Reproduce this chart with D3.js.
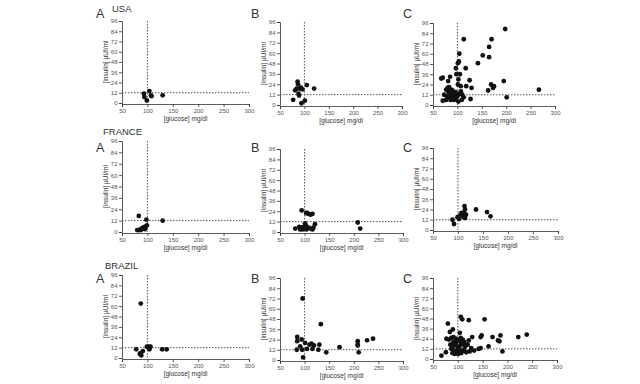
<!DOCTYPE html>
<html><head><meta charset="utf-8">
<script src="https://cdn.jsdelivr.net/npm/d3@7"></script>
<style>body{margin:0;background:#fff}svg{display:block}</style>
</head><body>
<svg id="c" width="640" height="384"></svg>
<script>
// ---- data ----
const countries = ["USA", "FRANCE", "BRAZIL"];
const panelLetters = ["A", "B", "C"];
const xTicks = [50, 100, 150, 200, 250, 300];
const yTicks = [0, 12, 24, 36, 48, 60, 72, 84, 96];
const glucoseCut = 100, insulinCut = 12;
const xTitle = "[glucose] mg/dl";
const yTitle = "[insulin] µUI/ml";

// [glucose, insulin]
const usaA = [[93,11],[94,7],[99,3],[104,14],[107,9],[108,8],[130,9]];
const usaB = [[86,27],[87,24],[81,17],[84,19],[90,19],[93,20],[96,18],[89,11],[88,13],[77,6],[94,2],[101,5],[105,23],[120,19]];
const usaC = [[198,89],[113,77],[170,77],[165,68],[165,56],[152,58],[142,49],[104,60],[103,51],[101,49],[97,43],[117,43],
  [98,36],[105,36],[102,30],[125,29],[67,31],[70,32],[85,33],[81,28],[101,24],[107,22],[118,22],[129,20],[169,24],[175,22],
  [173,20],[163,17],[195,28],[267,18],[201,9],[127,7],[70,5],[77,18],[80,20],[83,21],[87,18],[82,15],[87,14],[90,12],[79,10],
  [83,9],[89,8],[93,6],[97,7],[73,12],[77,6],[90,17],[95,13],[100,10],[103,13],[107,16],[110,12],[102,4],[113,9],[109,6],
  [85,11],[92,9],[96,15],[86,6]];
const franceA = [[83,17],[98,13],[130,12],[80,2],[83,2],[87,3],[90,4],[93,5],[97,6],[99,7],[95,3],[87,2]];
const franceB = [[94,25],[103,22],[108,21],[112,20],[116,21],[105,22],[81,4],[89,6],[94,5],[98,6],[103,7],[108,5],[112,4],
  [118,5],[121,9],[96,3],[104,3],[91,3],[208,11],[213,4],[116,3],[101,10]];
const franceC = [[89,12],[92,7],[99,15],[102,13],[105,18],[113,28],[114,24],[112,20],[116,18],[111,15],[114,14],[136,24],
  [158,21],[165,16],[107,20]];
const brazilA = [[87,63],[78,10],[86,5],[91,8],[88,3],[99,13],[103,13],[106,13],[104,10],[129,10],[138,10],[85,5]];
const brazilB = [[96,72],[133,42],[85,27],[85,22],[94,24],[91,16],[84,12],[95,12],[101,20],[105,13],[110,18],[114,19],
  [119,17],[116,13],[130,18],[128,12],[97,3],[144,9],[171,15],[208,22],[208,18],[210,9],[227,23],[239,25],[208,17]];
const brazilC = [[106,50],[109,47],[122,46],[154,47],[80,42],[90,35],[84,32],[104,31],[77,24],[82,23],[87,25],[91,26],
  [96,24],[101,23],[106,25],[110,23],[122,22],[129,26],[146,26],[148,28],[170,26],[181,22],[184,21],[186,28],[222,26],
  [239,29],[162,15],[146,13],[142,12],[133,10],[190,9],[67,4],[76,8],[85,17],[90,15],[95,17],[100,14],[105,16],[110,18],
  [115,15],[87,12],[94,10],[98,9],[103,11],[108,9],[112,11],[89,7],[94,6],[101,6],[107,7],[117,8],[124,9],[127,13],
  [120,17],[91,20],[97,20],[107,20],[113,20]];

const seriesByCountry = [[usaA, usaB, usaC], [franceA, franceB, franceC], [brazilA, brazilB, brazilC]];

// ---- layout (pixel boxes: x of 50, x of 300, y of 96, y of 0) ----
const boxes = [
  [[122,249,21,103],[280,402,22,105],[433,555,23,105]],
  [[122,249,141,232],[280,403,149,232],[433,558,148,230]],
  [[122,249,275,358],[280,403,278,360],[433,557,278,359]]
];
const countryPos = [[112,12],[103,135],[105,269]];
const letterX = [96, 251, 403];
const letterY = [18, 152, 283];

const svg = d3.select("#c");
const font = "Liberation Sans, Arial, sans-serif";

countries.forEach((cn, ci) => {
  svg.append("text").attr("x", countryPos[ci][0]).attr("y", countryPos[ci][1])
    .attr("font-family", font).attr("font-size", 9.5).attr("fill", "#333").text(cn);
  panelLetters.forEach((L, pi) => {
    const [x0, x1, yT, yB] = boxes[ci][pi];
    const data = seriesByCountry[ci][pi];
    const x = d3.scaleLinear().domain([50, 300]).range([x0, x1]);
    const y = d3.scaleLinear().domain([0, 96]).range([yB, yT]);
    const g = svg.append("g");

    // letter
    g.append("text").attr("x", letterX[pi]).attr("y", letterY[ci])
      .attr("font-family", font).attr("font-size", 12.5).attr("fill", "#333").text(L);

    // axes
    const ax = g.append("g").attr("transform", `translate(${x0},0)`)
      .call(d3.axisLeft(y).tickValues(yTicks).tickSize(3).tickPadding(1.5));
    const bx = g.append("g").attr("transform", `translate(0,${yB + 1})`)
      .call(d3.axisBottom(x).tickValues(xTicks).tickSize(3).tickPadding(1.5));
    [ax, bx].forEach(a => {
      a.selectAll("path,line").attr("stroke", "#333").attr("stroke-width", 0.8);
      a.selectAll("text").attr("font-family", font).attr("font-size", 6).attr("fill", "#555");
    });

    // axis titles
    g.append("text").attr("transform", `translate(${x0 - 14},${(yT + yB) / 2}) rotate(-90)`)
      .attr("text-anchor", "middle").attr("font-family", font).attr("font-size", 6.5).attr("fill", "#333").text(yTitle);
    g.append("text").attr("x", (x0 + x1) / 2).attr("y", yB + 18)
      .attr("text-anchor", "middle").attr("font-family", font).attr("font-size", 6.5).attr("fill", "#333").text(xTitle);

    // reference lines
    g.append("line").attr("x1", x(glucoseCut)).attr("x2", x(glucoseCut)).attr("y1", y(96)).attr("y2", y(0))
      .attr("stroke", "#555").attr("stroke-width", 1).attr("stroke-dasharray", "1.5,1.5");
    g.append("line").attr("x1", x(50)).attr("x2", x(300)).attr("y1", y(insulinCut)).attr("y2", y(insulinCut))
      .attr("stroke", "#555").attr("stroke-width", 1).attr("stroke-dasharray", "1.5,1.5");

    // points
    g.selectAll("circle").data(data).enter().append("circle")
      .attr("cx", d => x(d[0])).attr("cy", d => y(d[1])).attr("r", 2.4).attr("fill", "#111");
  });
});
</script>
</body></html>
